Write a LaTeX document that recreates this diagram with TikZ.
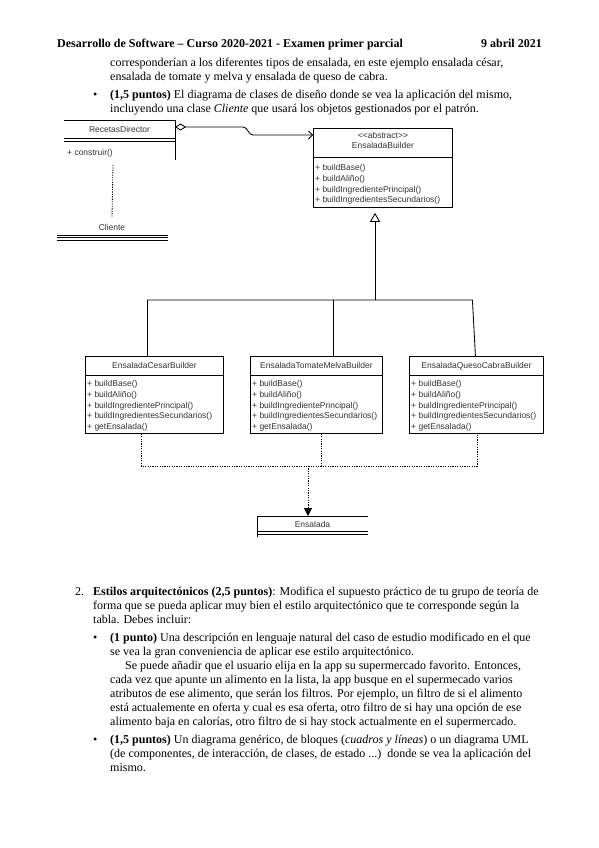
\documentclass[tikz,border=0pt]{standalone}
\usepackage{fontspec}
\setmainfont{Liberation Serif}
\setsansfont{Liberation Sans}
\usetikzlibrary{arrows.meta,calc}

% methods shared by the three concrete builders
\newcommand{\concretesteps}{+ buildBase()\\+ buildAliño()\\+ buildIngredientePrincipal()\\+ buildIngredientesSecundarios()\\+ getEnsalada()}

\begin{document}
\begin{tikzpicture}[
  x=1pt, y=-1pt,
  txt/.style={anchor=base west, inner sep=0pt, font=\fontsize{12}{14}\selectfont},
  hdr/.style={txt, font=\fontsize{12}{14}\selectfont\bfseries},
  uml/.style={inner sep=0pt, font=\sffamily\fontsize{8.5}{10.7}\selectfont, text=black!80},
  cname/.style={uml, anchor=base},
  meths/.style={uml, anchor=north west, align=left},
  cls/.style={draw, line width=0.85pt, anchor=north west, inner sep=0pt, minimum height=77pt},
  line/.style={line width=0.85pt},
  dots/.style={line width=0.85pt, dash pattern=on 1.2pt off 1.2pt},
  gen/.style={line, -{Triangle[open, length=9pt, width=10pt]}},
  agg/.style={line, {Diamond[open, length=11pt, width=7pt]}-{Straight Barb[length=4pt, width=8pt]}},
  dep/.style={dots, -{Triangle[length=8pt, width=8pt]}},
]
\useasboundingbox[fill=white] (0,0) rectangle (599,848);
% ---------------- header and text -----------------
\node[hdr] (head) at (57,48) {Desarrollo de Software -- Curso 2020-2021 - Examen primer parcial};
\node[hdr, anchor=base east] (date) at (542,48) {9 abril 2021};
\node[txt] (t1) at (110,67) {corresponderían a los diferentes tipos de ensalada, en este ejemplo ensalada césar,};
\node[txt] (t2) at (110,81) {ensalada de tomate y melva y ensalada de queso de cabra.};
\node[txt] (b1) at (93,99) {\textbullet};
\node[txt] (t3) at (110,99) {\textbf{(1,5 puntos)} El diagrama de clases de diseño donde se vea la aplicación del mismo,};
\node[txt] (t4) at (110,113) {incluyendo una clase \textit{Cliente} que usará los objetos gestionados por el patrón.};
% ---------------- director and client -----------------
\draw[line] (64,120) -- (175,120) -- (175,160);
\draw[line] (64,138) -- (175,138) (64,141) -- (175,141);
\node[cname] (rd) at (119.5,132) {RecetasDirector};
\node[uml, anchor=base west] (rdm) at (67,155) {+ construir()};
\coordinate (rdagg) at (175,127);
\node[cname] (cli) at (112,230) {Cliente};
\draw[line] (57,235) -- (168,235) (57,237.5) -- (168,237.5) (57,240) -- (168,240);
\draw[dots] (113,165) -- ([yshift=6pt]cli.north);
% ---------------- abstract builder -----------------
\node[cls, minimum width=139pt, minimum height=79pt] (eb) at (313,128) {};
\node[cname] (ebs) at ([yshift=-11pt]eb.north) {<{}<abstract>{}>};
\node[cname] (ebn) at ([yshift=-21pt]eb.north) {EnsaladaBuilder};
\draw[line] ([yshift=-29pt]eb.north west) -- ([yshift=-29pt]eb.north east);
\node[meths] (ebm) at ([xshift=2pt, yshift=-36.5pt]eb.north west) {+ buildBase()\\+ buildAliño()\\+ buildIngredientePrincipal()\\+ buildIngredientesSecundarios()};
\draw[agg] (rdagg) -- ++(68,0) .. controls +(5,0) and +(-5,0) .. ++(10,8) -- ([yshift=-7pt]eb.north west);
% ---------------- concrete builders -----------------
\node[cls, minimum width=138pt] (c1) at (85,356) {};
\node[cls, minimum width=132pt] (c2) at (250,356) {};
\node[cls, minimum width=134pt] (c3) at (409,356) {};
\node[cname] (c1n) at ([yshift=-12pt]c1.north) {EnsaladaCesarBuilder};
\node[cname] (c2n) at ([yshift=-12pt]c2.north) {EnsaladaTomateMelvaBuilder};
\node[cname] (c3n) at ([yshift=-12pt]c3.north) {EnsaladaQuesoCabraBuilder};
\draw[line] ([yshift=-19pt]c1.north west) -- ([yshift=-19pt]c1.north east);
\draw[line] ([yshift=-19pt]c2.north west) -- ([yshift=-19pt]c2.north east);
\draw[line] ([yshift=-19pt]c3.north west) -- ([yshift=-19pt]c3.north east);
\node[meths] (c1m) at ([xshift=2pt, yshift=-24.5pt]c1.north west) {\concretesteps};
\node[meths] (c2m) at ([xshift=2pt, yshift=-24.5pt]c2.north west) {\concretesteps};
\node[meths] (c3m) at ([xshift=2pt, yshift=-24.5pt]c3.north west) {\concretesteps};
\coordinate (fork) at (375,300);
\draw[gen, shorten >=5pt] (fork) -- (fork |- eb.south);
\draw[line] ([xshift=-7pt]c1.north) |- ([xshift=-4pt]c3.north |- fork) -- ([xshift=-1pt]c3.north);
\draw[line] ([xshift=17pt]c2.north) -- ([xshift=17pt]c2.north |- fork);
% ---------------- product -----------------
\node[cname] (ens) at (312.5,527) {Ensalada};
\coordinate (ensT) at (312.5,516);
\draw[line] (257,537) -- (257,516) -- (368,516);
\draw[line] (257,531.5) -- (368,531.5) (257,534) -- (368,534);
\coordinate (join) at (308,466);
\draw[dots] ([xshift=-13pt]c1.south) |- ([xshift=1pt]c3.south |- join) -- ([xshift=1pt]c3.south);
\draw[dots] ([xshift=5pt]c2.south) -- ([xshift=5pt]c2.south |- join);
\draw[dep] (join) -- (join |- ensT);
% ---------------- second question -----------------
\node[txt] (n2) at (75,595) {2.};
\node[txt] (s1) at (93,595) {\textbf{Estilos arquitectónicos (2,5 puntos)}: Modifica el supuesto práctico de tu grupo de teoría de};
\node[txt] (s2) at (93,609) {forma que se pueda aplicar muy bien el estilo arquitectónico que te corresponde según la};
\node[txt] (s3) at (93,623) {tabla. Debes incluir:};
\node[txt] (b2) at (93,641) {\textbullet};
\node[txt] (s4) at (110,641) {\textbf{(1 punto)} Una descripción en lenguaje natural del caso de estudio modificado en el que};
\node[txt] (s5) at (110,655) {se vea la gran conveniencia de aplicar ese estilo arquitectónico.};
\node[txt] (s6) at (125,669) {Se puede añadir que el usuario elija en la app su supermercado favorito. Entonces,};
\node[txt] (s7) at (110,683) {cada vez que apunte un alimento en la lista, la app busque en el supermecado varios};
\node[txt] (s8) at (110,697) {atributos de ese alimento, que serán los filtros. Por ejemplo, un filtro de si el alimento};
\node[txt] (s9) at (110,711) {está actualemente en oferta y cual es esa oferta, otro filtro de si hay una opción de ese};
\node[txt] (s10) at (110,725) {alimento baja en calorías, otro filtro de si hay stock actualmente en el supermercado.};
\node[txt] (b3) at (93,743) {\textbullet};
\node[txt] (s11) at (110,743) {\textbf{(1,5 puntos)} Un diagrama genérico, de bloques (\textit{cuadros y líneas}) o un diagrama UML};
\node[txt] (s12) at (110,757) {(de componentes, de interacción, de clases, de estado ...)\ \ donde se vea la aplicación del};
\node[txt] (s13) at (110,771) {mismo.};
\end{tikzpicture}
\end{document}
